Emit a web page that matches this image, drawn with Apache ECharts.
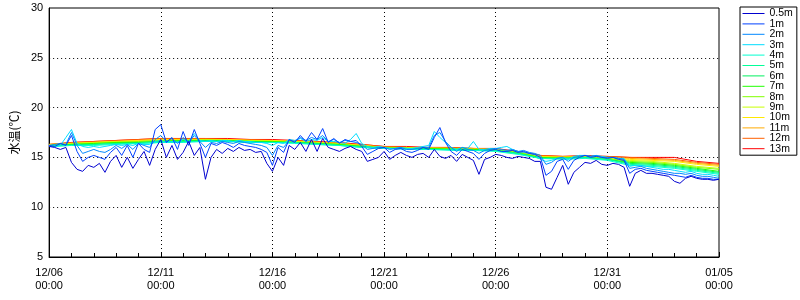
<!DOCTYPE html>
<html><head><meta charset="utf-8">
<script src="https://cdn.jsdelivr.net/npm/echarts@6/dist/echarts.min.js"></script>
<style>html,body{margin:0;padding:0;background:#fff}#c{width:800px;height:300px}</style>
</head><body><div id="c"></div>
<script>
// category / tick labels
const xTickLabels = ['12/06\n00:00','12/11\n00:00','12/16\n00:00','12/21\n00:00','12/26\n00:00','12/31\n00:00','01/05\n00:00'];
const depths = ['0.5m','1m','2m','3m','4m','5m','6m','7m','8m','9m','10m','11m','12m','13m'];
const colors = ['#0000d0','#0040ff','#0088ff','#00ddff','#00ffd0','#00ff99','#00f060','#20ff00','#80ff00','#c8ff00','#ffe800','#ffaa00','#ff6000','#ff0000'];

// 6-hourly values (days 0..30)
const v05 = [16.1,16.0,15.8,16.0, 14.5,13.8,13.6,14.2, 14.0,14.4,13.5,14.6, 15.2,14.0,15.0,13.9, 14.8,15.6,14.2,15.8,
 16.8,15.0,16.2,14.8, 15.5,16.6,15.2,16.0, 12.8,15.0,15.8,15.4, 15.9,15.6,16.0,15.7, 15.8,15.5,15.6,14.4,
 13.6,15.0,14.2,16.2, 15.8,16.5,15.6,16.8, 15.6,16.9,16.0,15.8, 15.6,15.9,16.1,15.8, 15.6,14.6,14.8,15.0,
 15.6,14.8,15.2,15.5, 15.2,15.0,15.3,15.4, 15.0,15.8,15.1,14.9, 15.2,14.6,15.3,15.0, 14.7,13.3,14.8,15.0,
 15.3,15.2,15.0,14.9, 15.1,15.0,14.9,14.6, 14.6,12.0,11.8,13.0, 14.2,12.3,13.5,14.0, 14.5,14.4,14.7,14.3,
 14.2,14.4,14.3,14.0, 12.1,13.4,13.7,13.4, 13.4,13.3,13.2,13.1, 12.6,12.4,12.9,13.1, 12.9,12.8,12.8,12.7, 12.8];
const v1 = [16.2,16.1,16.4,16.2, 17.2,15.6,14.6,15.0, 15.2,15.0,14.8,15.5, 16.0,15.2,16.2,15.0, 16.4,15.8,15.5,17.8,
 18.3,16.5,17.0,15.8, 17.6,16.2,17.8,16.4, 15.0,16.4,16.2,16.5, 16.3,16.0,16.4,16.2, 16.1,16.0,15.8,15.5,
 14.2,16.0,15.5,16.8, 16.5,17.2,16.6,17.5, 16.8,17.9,16.5,16.9, 16.4,16.8,16.6,16.7, 16.1,15.3,15.6,15.9,
 16.0,15.5,15.8,15.9, 15.6,15.5,15.7,16.0, 15.8,17.0,18.0,16.5, 15.6,15.2,15.8,15.6, 15.4,14.8,15.4,15.7,
 15.8,15.6,15.6,15.7, 15.5,15.6,15.4,15.3, 15.0,13.2,13.6,14.6, 14.8,13.8,14.7,15.0, 15.2,15.0,15.1,15.0,
 14.9,15.0,14.8,14.7, 13.4,13.8,13.9,13.7, 13.6,13.5,13.4,13.3, 13.2,13.1,13.0,13.2, 13.0,12.9,12.9,12.8, 12.8];
const v2 = [16.2,16.3,16.4,16.3, 17.5,16.2,15.4,15.6, 15.8,15.6,15.5,15.8, 16.2,15.9,16.3,15.8, 16.4,16.2,16.0,16.8,
 17.2,16.6,16.9,16.4, 17.0,16.5,17.2,16.6, 16.0,16.5,16.4,16.6, 16.5,16.4,16.6,16.5, 16.4,16.3,16.2,16.0,
 15.2,16.2,16.0,16.7, 16.6,17.0,16.7,17.0, 16.8,17.2,16.6,16.8, 16.5,16.7,16.6,16.5, 16.3,15.8,15.9,16.0,
 16.0,15.8,15.9,16.0, 15.8,15.8,15.9,16.0, 16.0,17.2,17.5,16.6, 16.0,15.6,16.0,15.8, 15.7,15.4,15.7,15.8,
 15.9,15.8,15.7,15.8, 15.6,15.7,15.5,15.4, 15.2,14.3,14.5,14.9, 15.0,14.6,15.0,15.1, 15.2,15.1,15.2,15.0,
 15.0,15.0,14.9,14.8, 13.9,14.0,14.1,13.9, 13.8,13.7,13.6,13.5, 13.4,13.4,13.3,13.4, 13.2,13.1,13.1,13.0, 12.9];
const v3 = [16.2,16.1,16.2,17.0, 17.8,16.4,16.1,16.0, 16.1,16.0,16.1,16.2, 16.3,16.2,16.3,16.2, 16.4,16.3,16.3,16.6,
 16.7,16.5,16.6,16.5, 16.8,16.6,17.4,16.7, 16.6,16.7,16.6,16.7, 16.7,16.6,16.7,16.6, 16.6,16.5,16.5,16.4,
 16.2,16.5,16.4,16.8, 16.7,16.9,16.6,16.8, 16.7,17.0,16.6,16.6, 16.5,16.4,16.8,17.4, 16.4,16.1,16.0,16.1,
 16.0,15.9,15.9,16.0, 15.9,15.9,16.0,16.1, 16.2,17.6,17.0,16.5, 16.0,15.8,16.0,15.9, 16.6,15.8,15.8,15.9,
 15.9,16.0,16.1,15.8, 15.6,15.5,15.4,15.3, 14.8,14.6,14.7,14.9, 15.0,14.8,15.1,15.2, 15.2,15.1,15.2,15.1,
 15.0,15.0,14.9,14.9, 14.1,14.2,14.2,14.1, 14.0,13.9,13.8,13.8, 13.7,13.6,13.5,13.6, 13.4,13.3,13.3,13.2, 13.1];

// daily values (days 0..30)
const v4  = [16.1,16.2,16.2,16.3,16.4,16.5,16.5,16.6,16.6,16.5,16.5,16.4,16.3,16.2,16.0,15.9,15.8,15.8,15.7,15.7,15.6,15.3,14.9,14.8,14.9,14.7,14.2,14.1,13.9,13.6,13.3];
const v5  = [16.1,16.2,16.3,16.4,16.4,16.5,16.6,16.6,16.6,16.5,16.5,16.5,16.3,16.2,16.0,15.9,15.9,15.8,15.8,15.7,15.7,15.4,14.9,14.9,15.0,14.8,14.3,14.2,14.0,13.7,13.4];
const v6  = [16.1,16.3,16.3,16.4,16.5,16.6,16.6,16.7,16.6,16.6,16.5,16.5,16.4,16.2,16.1,15.9,15.9,15.8,15.8,15.7,15.7,15.4,14.9,14.9,15.0,14.8,14.4,14.3,14.1,13.8,13.5];
const v7  = [16.2,16.3,16.4,16.5,16.5,16.6,16.7,16.7,16.7,16.6,16.6,16.5,16.4,16.3,16.1,15.9,15.9,15.9,15.8,15.8,15.7,15.4,15.0,14.9,15.0,14.8,14.5,14.4,14.2,13.9,13.6];
const v8  = [16.2,16.3,16.4,16.5,16.6,16.7,16.7,16.7,16.7,16.6,16.6,16.5,16.4,16.3,16.1,16.0,15.9,15.9,15.9,15.8,15.7,15.5,15.0,15.0,15.0,14.9,14.6,14.5,14.3,14.0,13.8];
const v9  = [16.2,16.4,16.5,16.6,16.6,16.7,16.7,16.8,16.7,16.7,16.6,16.6,16.5,16.3,16.2,16.0,16.0,15.9,15.9,15.8,15.8,15.5,15.0,15.0,15.0,14.9,14.7,14.6,14.4,14.1,13.9];
const v10 = [16.3,16.4,16.5,16.6,16.7,16.8,16.8,16.8,16.8,16.7,16.7,16.6,16.5,16.4,16.2,16.0,16.0,15.9,15.9,15.8,15.8,15.5,15.1,15.0,15.1,15.0,14.8,14.7,14.6,14.3,14.1];
const v11 = [16.3,16.4,16.5,16.6,16.7,16.8,16.8,16.8,16.8,16.7,16.7,16.6,16.5,16.4,16.2,16.0,16.0,16.0,15.9,15.9,15.8,15.5,15.1,15.1,15.1,15.0,14.9,14.8,14.7,14.4,14.2];
const v12 = [16.3,16.5,16.6,16.7,16.8,16.9,16.9,16.9,16.8,16.8,16.7,16.7,16.6,16.4,16.3,16.1,16.0,16.0,16.0,15.9,15.8,15.6,15.2,15.1,15.1,15.1,15.0,14.9,14.8,14.5,14.3];
const v13 = [16.3,16.5,16.6,16.7,16.8,16.9,16.9,16.9,16.9,16.8,16.8,16.7,16.6,16.5,16.3,16.1,16.1,16.0,16.0,15.9,15.9,15.6,15.2,15.1,15.2,15.1,15.0,15.0,15.0,14.6,14.4];

const values = [v05,v1,v2,v3,v4,v5,v6,v7,v8,v9,v10,v11,v12,v13];

function pairs(arr){
  const step = 30/(arr.length-1);
  return arr.map((v,i)=>[i*step, v]);
}

const series = [];
for (let k = depths.length-1; k >= 0; k--) {
  series.push({
    name: depths[k], type:'line', data: pairs(values[k]),
    symbol:'none', showSymbol:false, animation:false,
    lineStyle:{width:1, color:colors[k]}, itemStyle:{color:colors[k]}
  });
}

const chart = echarts.init(document.getElementById('c'), null, {renderer:'canvas'});
chart.setOption({
  animation:false,
  textStyle:{fontFamily:'Liberation Sans, Arial, sans-serif'},
  grid:{left:46, right:81, top:8, bottom:43, show:true, borderColor:'#000', borderWidth:1, backgroundColor:'transparent'},
  legend:{
    data: depths, orient:'vertical', left:740, top:7, width:57,
    itemWidth:22, itemHeight:10, itemGap:-0.6,
    padding:[1,4,1,2], borderColor:'#000', borderWidth:1,
    itemStyle:{opacity:0},
    lineStyle:{width:1},
    textStyle:{fontSize:10.5, color:'#000', lineHeight:10},
    selectedMode:false
  },
  xAxis:{
    type:'value', min:0, max:30, interval:5,
    axisLine:{lineStyle:{color:'#000', width:1}},
    axisTick:{inside:true, length:5, lineStyle:{color:'#000'}},
    minorTick:{show:true, splitNumber:5, length:4, lineStyle:{color:'#000'}},
    axisLabel:{fontSize:11, color:'#000', lineHeight:13, margin:9,
      formatter:(v)=>xTickLabels[Math.round(v/5)]},
    splitLine:{show:true, showMinLine:false, showMaxLine:false, lineStyle:{color:'#000', type:[1,3], width:1}}
  },
  yAxis:{
    type:'value', min:5, max:30, interval:5,
    name:'水温(℃)', nameLocation:'middle', nameGap:27, nameRotate:90,
    nameTextStyle:{fontSize:12, color:'#000', fontFamily:'Noto Sans CJK JP, sans-serif'},
    axisLine:{show:true, lineStyle:{color:'#000', width:1}},
    axisTick:{show:false},
    axisLabel:{fontSize:11, color:'#000', margin:6},
    splitLine:{show:true, showMinLine:false, showMaxLine:false, lineStyle:{color:'#000', type:[1,3], width:1}}
  },
  series: series
});
</script></body></html>
